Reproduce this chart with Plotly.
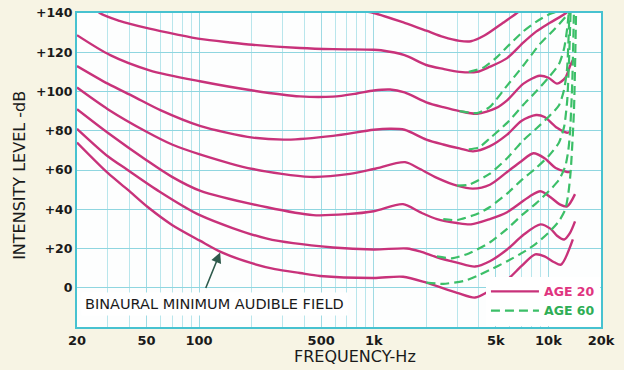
import math
import plotly.graph_objects as go

# ---------------- data (frequency in Hz, level in dB) ----------------
# Age 20 (solid) equal-loudness contours
f_140 = [800, 1000, 1500, 2000, 2500, 3100, 3600, 4300, 5500, 6600, 7500]
db_140 = [141.5, 140, 135, 131, 127.8, 125.8, 125.6, 128.5, 135, 140, 144]

f_120 = [24, 27, 35, 52, 75, 101, 150, 203, 378, 584, 1000, 1100, 1500, 2000, 2500, 3100, 3900, 4600, 5800, 7200, 8500, 10200, 12600, 13500]
db_120 = [145, 140, 136, 132, 129, 126.8, 125, 123.8, 122.2, 121.6, 121.3, 121, 118.5, 113.5, 111.5, 110, 110, 112.5, 117, 125, 130.5, 135, 140, 143]

f_100 = [20, 31, 52, 101, 203, 378, 584, 800, 1000, 1240, 1500, 2000, 2500, 3100, 3900, 5000, 5800, 7200, 8900, 10000, 11200, 12500, 13300, 13800]
db_100 = [128.7, 118.5, 110.8, 105.2, 100.5, 97.5, 97.4, 99, 100.5, 101, 99.5, 94.5, 92, 90, 88.7, 91.5, 95.5, 104, 108, 107, 104, 107, 113, 116]

f_80 = [20, 30, 42, 60, 101, 203, 318, 584, 1000, 1240, 1500, 2000, 2500, 3100, 3700, 4600, 5800, 7000, 8500, 9500, 11200, 12800, 13300]
db_80 = [113, 104, 97.5, 90.5, 82.5, 76.5, 75.5, 77.4, 80.5, 81, 80.5, 75.5, 73, 71, 69.5, 72, 78, 85, 88, 87, 81.5, 79, 79.5]

f_60 = [20, 30, 50, 70, 101, 203, 432, 731, 1000, 1510, 1840, 2300, 3000, 3700, 4620, 5800, 7000, 8200, 9500, 11000, 12800, 13300]
db_60 = [102, 91, 79.5, 73, 68, 60.5, 56.5, 58, 60.5, 64, 60.5, 56, 52, 50.5, 52.5, 59, 64.5, 68.5, 66, 61, 59, 59]

f_40 = [20, 30, 50, 70, 101, 245, 450, 700, 1000, 1470, 1840, 2300, 3000, 3600, 4620, 5800, 7800, 9000, 10500, 11600, 12800, 14200]
db_40 = [91, 79, 65, 56.5, 49.5, 41, 37, 37.5, 39, 42.6, 38.5, 35, 33, 32.3, 35, 38.5, 46.5, 49.2, 45.5, 42.5, 41.5, 47.7]

f_20 = [20, 30, 39, 57, 101, 245, 584, 1000, 1550, 1840, 2300, 3000, 3800, 4620, 5800, 7200, 9000, 10300, 11200, 12300, 13300, 14200]
db_20 = [81, 67, 60, 50, 37, 25, 20.5, 19.5, 20, 18.5, 15.5, 12.8, 10.8, 13.5, 19.5, 27, 32.3, 30, 26.5, 24.6, 28, 33.8]

f_0 = [20, 30, 39, 51, 70, 101, 135, 200, 272, 378, 492, 1000, 1470, 2000, 3000, 3800, 4620, 5800, 7000, 8400, 9500, 10800, 11800, 13800]
db_0 = [74, 58.5, 50, 41, 32, 24, 18, 12.5, 9.5, 7.5, 6, 5, 5.6, 2.6, -2.6, -5, -1.5, 4, 11, 17, 16, 13, 11.8, 24.6]

# Age 60 (dashed) contours, where they depart from the age-20 ones
f_120_60 = [3500, 4200, 5000, 6000, 7150, 8500, 10200, 11500]
db_120_60 = [110, 112, 117, 124, 130.5, 135.5, 139.5, 141]

f_100_60 = [3100, 3900, 4600, 5800, 7150, 8900, 10900, 12800, 13500]
db_100_60 = [90, 89, 92, 103, 113, 124, 132, 139, 142]

f_80_60 = [3500, 4000, 4600, 5800, 7150, 8500, 10000, 11500, 12300, 12800, 13100]
db_80_60 = [70.5, 71.5, 76, 84, 93, 100, 107, 114, 122, 132, 141]

f_60_60 = [3000, 3500, 4600, 5800, 7150, 8500, 10000, 11500, 12300, 12800, 13200]
db_60_60 = [52, 52.5, 58, 66, 75, 81, 87, 93, 101, 112, 141]

f_40_60 = [2500, 3000, 4000, 4600, 5800, 7150, 8500, 10000, 11500, 12300, 12800, 13100, 13400]
db_40_60 = [35, 34.5, 38, 41, 48, 55.5, 61, 67, 74, 82, 95, 114, 141]

f_20_60 = [2300, 2800, 3500, 4600, 5800, 7150, 8500, 10000, 11500, 12500, 13000, 13300, 13700, 14000]
db_20_60 = [16, 15, 17.5, 23, 30, 37.5, 43, 49, 55, 62, 70, 79.5, 105, 141]

f_0_60 = [2000, 2500, 3300, 3900, 4600, 5800, 7150, 8500, 10000, 11500, 12500, 13000, 13400, 14000, 14400]
db_0_60 = [2.6, 2, 3.5, 6, 9, 13.5, 18, 22.5, 28, 34, 40, 48, 59, 90, 141]

x_tick_vals = [20, 50, 100, 500, 1000, 5000, 10000, 20000]
x_tick_text = ["20", "50", "100", "500", "1k", "5k", "10k", "20k"]
x_minor_vals = [30, 40, 60, 70, 80, 90, 200, 300, 400, 600, 700, 800, 900,
                2000, 3000, 4000, 6000, 7000, 8000, 9000]
y_tick_vals = [0, 20, 40, 60, 80, 100, 120, 140]
y_tick_text = ["0", "+20", "+40", "+60", "+80", "+100", "+120", "+140"]

arrow_freq, arrow_db = 132, 18

# ---------------- figure ----------------
PINK = "#c8327a"
GREEN = "#3cbf68"
FONT = "DejaVu Sans"

fig = go.Figure()

age20 = [(f_140, db_140), (f_120, db_120), (f_100, db_100), (f_80, db_80),
         (f_60, db_60), (f_40, db_40), (f_20, db_20), (f_0, db_0)]
age60 = [(f_120_60, db_120_60), (f_100_60, db_100_60), (f_80_60, db_80_60),
         (f_60_60, db_60_60), (f_40_60, db_40_60), (f_20_60, db_20_60),
         (f_0_60, db_0_60)]

for i, (fx, dy) in enumerate(age20):
    fig.add_trace(go.Scatter(
        x=fx, y=dy, mode="lines",
        line=dict(color=PINK, width=2.4, shape="spline", smoothing=0.8),
        name='<span style="color:#e0357f">AGE 20</span>',
        legendgroup="a20", showlegend=(i == 0), hoverinfo="skip"))

for i, (fx, dy) in enumerate(age60):
    fig.add_trace(go.Scatter(
        x=fx, y=dy, mode="lines",
        line=dict(color=GREEN, width=2.2, dash="9px,5px", shape="spline", smoothing=0.6),
        name='<span style="color:#2fae55">AGE 60</span>',
        legendgroup="a60", showlegend=(i == 0), hoverinfo="skip"))

fig.update_xaxes(
    type="log", range=[math.log10(20), math.log10(20000)],
    tickvals=x_tick_vals, ticktext=x_tick_text, automargin=False,
    showgrid=True, gridcolor="#9fdbe4", gridwidth=1,
    minor=dict(tickvals=x_minor_vals, showgrid=True, gridcolor="#b9e6ec", gridwidth=1, ticklen=0),
    showline=True, linecolor="#47c2d0", linewidth=2, mirror=True,
    ticks="", tickfont=dict(family=FONT, size=13, color="#1a1a1a", weight="bold"),
    zeroline=False,
)
fig.update_yaxes(
    range=[-20, 140], tickvals=y_tick_vals, ticktext=y_tick_text, automargin=False,
    showgrid=True, gridcolor="#8fd6e0", gridwidth=1,
    showline=True, linecolor="#47c2d0", linewidth=2, mirror=True,
    ticks="", tickfont=dict(family=FONT, size=12.5, color="#1a1a1a", weight="bold"),
    zeroline=False,
)

fig.update_layout(
    width=624, height=370,
    margin=dict(l=77, r=23, t=13, b=43),
    paper_bgcolor="#f7f4e4", plot_bgcolor="#fdfefe",
    legend=dict(x=0.998, y=0.004, xanchor="right", yanchor="bottom",
                bgcolor="#ffffff", borderwidth=0, tracegroupgap=0,
                font=dict(family=FONT, size=12.5, weight="bold"),
                itemwidth=48),
    annotations=[
        dict(text="BINAURAL MINIMUM AUDIBLE FIELD", xref="paper", yref="paper",
             x=0.008, y=0.072, xanchor="left", yanchor="middle", showarrow=False,
             bgcolor="#ffffff", borderpad=3,
             font=dict(family=FONT, size=14.5, color="#1a1a1a")),
        dict(text="", x=math.log10(arrow_freq), y=arrow_db, xref="x", yref="y",
             showarrow=True, ax=-15, ay=37, arrowhead=2, arrowsize=1.3,
             arrowwidth=1.6, arrowcolor="#2e5a4c"),
        dict(text="INTENSITY LEVEL -dB", xref="paper", yref="paper",
             x=-0.111, y=0.484, xanchor="center", yanchor="middle", textangle=-90,
             showarrow=False, font=dict(family=FONT, size=16, color="#1a1a1a")),
        dict(text="FREQUENCY-Hz", xref="paper", yref="paper",
             x=0.53, y=-0.095, xanchor="center", yanchor="middle",
             showarrow=False, font=dict(family=FONT, size=16, color="#1a1a1a")),
    ],
)

fig.write_html("out.html", config={"displayModeBar": False},
               post_script="document.body.style.margin='0';")
